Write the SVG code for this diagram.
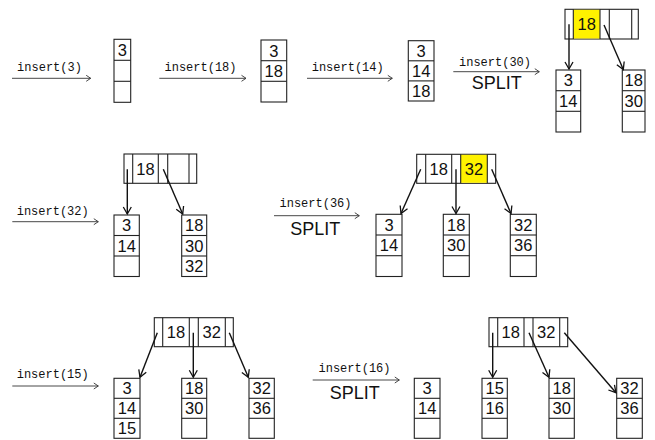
<svg xmlns="http://www.w3.org/2000/svg" width="655" height="440" viewBox="0 0 655 440">
<defs>
<style>
.box{fill:#fff;stroke:#222;stroke-width:1.1}
.div{stroke:#222;stroke-width:1.1}
.hl{fill:#fff200;stroke:none}
.k{font-family:"Liberation Sans",Arial,sans-serif;font-size:16.5px;text-anchor:middle;fill:#111}
.lbl{font-family:"Liberation Mono","Courier New",monospace;font-size:12px;text-anchor:middle;fill:#111}
.split{font-family:"Liberation Sans",Arial,sans-serif;font-size:18px;text-anchor:middle;fill:#111}
.step{stroke:#333;stroke-width:0.9;fill:none;marker-end:url(#sh)}
.edge{stroke:#111;stroke-width:1.4;fill:none;marker-end:url(#eh)}
</style>
<marker id="sh" markerUnits="userSpaceOnUse" markerWidth="8" markerHeight="8" refX="5" refY="3" orient="auto" overflow="visible">
<path d="M0.5,0 L5,3 L0.5,6" fill="none" stroke="#333" stroke-width="0.9"/>
</marker>
<marker id="eh" markerUnits="userSpaceOnUse" markerWidth="10" markerHeight="10" refX="7" refY="4" orient="auto" overflow="visible">
<path d="M0,0 L7,4 L0,8" fill="none" stroke="#111" stroke-width="1.3"/>
</marker>
</defs>
<rect width="655" height="440" fill="#fff"/>

<g id="steps">
<line class="step" x1="12" y1="78.3" x2="90.7" y2="78.3"/>
<text class="lbl" x="49.5" y="70.5">insert(3)</text>
<line class="step" x1="159.3" y1="78.3" x2="246" y2="78.3"/>
<text class="lbl" x="200.5" y="70.5">insert(18)</text>
<line class="step" x1="307" y1="78.3" x2="392.3" y2="78.3"/>
<text class="lbl" x="347.7" y="70.5">insert(14)</text>
<line class="step" x1="453.3" y1="71.7" x2="539.3" y2="71.7"/>
<text class="lbl" x="495" y="66">insert(30)</text>
<text class="split" x="496.7" y="89.3">SPLIT</text>
<line class="step" x1="12.3" y1="221.7" x2="98.3" y2="221.7"/>
<text class="lbl" x="52.7" y="214.5">insert(32)</text>
<line class="step" x1="274" y1="215.7" x2="359.3" y2="215.7"/>
<text class="lbl" x="315.5" y="207.3">insert(36)</text>
<text class="split" x="315.3" y="235">SPLIT</text>
<line class="step" x1="12.3" y1="386" x2="98.3" y2="386"/>
<text class="lbl" x="52.7" y="377.5">insert(15)</text>
<line class="step" x1="312.7" y1="380" x2="399.3" y2="380"/>
<text class="lbl" x="354.5" y="372.3">insert(16)</text>
<text class="split" x="354.7" y="399.3">SPLIT</text>
</g>

<!-- Row 1 -->
<g id="leaf1">
<rect class="box" x="114" y="39.3" width="16.7" height="63"/>
<line class="div" x1="114" y1="60.3" x2="130.7" y2="60.3"/>
<line class="div" x1="114" y1="81.3" x2="130.7" y2="81.3"/>
<text class="k" x="122.3" y="55.8">3</text>
</g>
<g id="leaf2">
<rect class="box" x="261" y="40" width="25.7" height="62"/>
<line class="div" x1="261" y1="60.7" x2="286.7" y2="60.7"/>
<line class="div" x1="261" y1="81.3" x2="286.7" y2="81.3"/>
<text class="k" x="273.8" y="56.5">3</text>
<text class="k" x="273.8" y="77">18</text>
</g>
<g id="leaf3">
<rect class="box" x="408.3" y="40.7" width="25.7" height="60.3"/>
<line class="div" x1="408.3" y1="60.8" x2="434" y2="60.8"/>
<line class="div" x1="408.3" y1="80.9" x2="434" y2="80.9"/>
<text class="k" x="421.2" y="56.7">3</text>
<text class="k" x="421.2" y="76.8">14</text>
<text class="k" x="421.2" y="96.9">18</text>
</g>
<g id="root1">
<rect class="box" x="565" y="9.3" width="73.3" height="29.7"/>
<rect class="hl" x="573.3" y="9.8" width="26.7" height="28.7"/>
<line class="div" x1="573.3" y1="9.3" x2="573.3" y2="39"/>
<line class="div" x1="600" y1="9.3" x2="600" y2="39"/>
<line class="div" x1="609.3" y1="9.3" x2="609.3" y2="39"/>
<line class="div" x1="631.7" y1="9.3" x2="631.7" y2="39"/>
<text class="k" x="586.7" y="29.8">18</text>
</g>
<g id="leaf4a">
<rect class="box" x="556" y="70" width="24.7" height="62"/>
<line class="div" x1="556" y1="90.7" x2="580.7" y2="90.7"/>
<line class="div" x1="556" y1="111.3" x2="580.7" y2="111.3"/>
<text class="k" x="568.3" y="86.3">3</text>
<text class="k" x="568.3" y="107">14</text>
</g>
<g id="leaf4b">
<rect class="box" x="622.3" y="70" width="22.7" height="62"/>
<line class="div" x1="622.3" y1="90.7" x2="645" y2="90.7"/>
<line class="div" x1="622.3" y1="111.3" x2="645" y2="111.3"/>
<text class="k" x="633.7" y="86.3">18</text>
<text class="k" x="633.7" y="107">30</text>
</g>

<!-- Row 2 left -->
<g id="root2a">
<rect class="box" x="124" y="154" width="72.7" height="29.3"/>
<line class="div" x1="132.7" y1="154" x2="132.7" y2="183.3"/>
<line class="div" x1="158.3" y1="154" x2="158.3" y2="183.3"/>
<line class="div" x1="167.7" y1="154" x2="167.7" y2="183.3"/>
<line class="div" x1="189" y1="154" x2="189" y2="183.3"/>
<text class="k" x="145.5" y="174.5">18</text>
</g>
<g id="leaf5a">
<rect class="box" x="114" y="215" width="25.3" height="61.5"/>
<line class="div" x1="114" y1="235.5" x2="139.3" y2="235.5"/>
<line class="div" x1="114" y1="256" x2="139.3" y2="256"/>
<text class="k" x="126.7" y="231">3</text>
<text class="k" x="126.7" y="251.5">14</text>
</g>
<g id="leaf5b">
<rect class="box" x="181.7" y="215" width="25" height="61.5"/>
<line class="div" x1="181.7" y1="235.5" x2="206.7" y2="235.5"/>
<line class="div" x1="181.7" y1="256" x2="206.7" y2="256"/>
<text class="k" x="194.2" y="231">18</text>
<text class="k" x="194.2" y="251.5">30</text>
<text class="k" x="194.2" y="272">32</text>
</g>

<!-- Row 2 right -->
<g id="root2b">
<rect class="box" x="416.7" y="154.3" width="79" height="29"/>
<rect class="hl" x="460.7" y="154.8" width="26.6" height="28"/>
<line class="div" x1="425.7" y1="154.3" x2="425.7" y2="183.3"/>
<line class="div" x1="451.7" y1="154.3" x2="451.7" y2="183.3"/>
<line class="div" x1="460.7" y1="154.3" x2="460.7" y2="183.3"/>
<line class="div" x1="487.3" y1="154.3" x2="487.3" y2="183.3"/>
<text class="k" x="438.7" y="174.8">18</text>
<text class="k" x="474" y="174.8">32</text>
</g>
<g id="leaf6a">
<rect class="box" x="376" y="214.3" width="26" height="62.2"/>
<line class="div" x1="376" y1="235" x2="402" y2="235"/>
<line class="div" x1="376" y1="255.7" x2="402" y2="255.7"/>
<text class="k" x="389" y="230.5">3</text>
<text class="k" x="389" y="251.2">14</text>
</g>
<g id="leaf6b">
<rect class="box" x="443.3" y="214.3" width="26" height="62.2"/>
<line class="div" x1="443.3" y1="235" x2="469.3" y2="235"/>
<line class="div" x1="443.3" y1="255.7" x2="469.3" y2="255.7"/>
<text class="k" x="456.3" y="230.5">18</text>
<text class="k" x="456.3" y="251.2">30</text>
</g>
<g id="leaf6c">
<rect class="box" x="510.3" y="214.3" width="26" height="62.2"/>
<line class="div" x1="510.3" y1="235" x2="536.3" y2="235"/>
<line class="div" x1="510.3" y1="255.7" x2="536.3" y2="255.7"/>
<text class="k" x="523.3" y="230.5">32</text>
<text class="k" x="523.3" y="251.2">36</text>
</g>

<!-- Row 3 left -->
<g id="root3a">
<rect class="box" x="154.3" y="317.7" width="79" height="29"/>
<line class="div" x1="162.7" y1="317.7" x2="162.7" y2="346.7"/>
<line class="div" x1="189.3" y1="317.7" x2="189.3" y2="346.7"/>
<line class="div" x1="198.3" y1="317.7" x2="198.3" y2="346.7"/>
<line class="div" x1="225.3" y1="317.7" x2="225.3" y2="346.7"/>
<text class="k" x="176" y="338.2">18</text>
<text class="k" x="211.8" y="338.2">32</text>
</g>
<g id="leaf7a">
<rect class="box" x="114" y="378.3" width="26" height="60"/>
<line class="div" x1="114" y1="398.3" x2="140" y2="398.3"/>
<line class="div" x1="114" y1="418.3" x2="140" y2="418.3"/>
<text class="k" x="127" y="394.3">3</text>
<text class="k" x="127" y="414.3">14</text>
<text class="k" x="127" y="434.3">15</text>
</g>
<g id="leaf7b">
<rect class="box" x="181.7" y="378.3" width="25" height="60"/>
<line class="div" x1="181.7" y1="398.3" x2="206.7" y2="398.3"/>
<line class="div" x1="181.7" y1="418.3" x2="206.7" y2="418.3"/>
<text class="k" x="194.2" y="394.3">18</text>
<text class="k" x="194.2" y="414.3">30</text>
</g>
<g id="leaf7c">
<rect class="box" x="249" y="378.3" width="25.3" height="60"/>
<line class="div" x1="249" y1="398.3" x2="274.3" y2="398.3"/>
<line class="div" x1="249" y1="418.3" x2="274.3" y2="418.3"/>
<text class="k" x="261.7" y="394.3">32</text>
<text class="k" x="261.7" y="414.3">36</text>
</g>

<!-- Row 3 right -->
<g id="root3b">
<rect class="box" x="489" y="317.7" width="78.7" height="29"/>
<line class="div" x1="497.7" y1="317.7" x2="497.7" y2="346.7"/>
<line class="div" x1="524" y1="317.7" x2="524" y2="346.7"/>
<line class="div" x1="533" y1="317.7" x2="533" y2="346.7"/>
<line class="div" x1="559.7" y1="317.7" x2="559.7" y2="346.7"/>
<text class="k" x="510.8" y="338.2">18</text>
<text class="k" x="546.3" y="338.2">32</text>
</g>
<g id="leaf8a">
<rect class="box" x="414.3" y="378.3" width="25.7" height="60"/>
<line class="div" x1="414.3" y1="398.3" x2="440" y2="398.3"/>
<line class="div" x1="414.3" y1="418.3" x2="440" y2="418.3"/>
<text class="k" x="427.2" y="394.3">3</text>
<text class="k" x="427.2" y="414.3">14</text>
</g>
<g id="leaf8b">
<rect class="box" x="482" y="378.3" width="25.3" height="60"/>
<line class="div" x1="482" y1="398.3" x2="507.3" y2="398.3"/>
<line class="div" x1="482" y1="418.3" x2="507.3" y2="418.3"/>
<text class="k" x="494.7" y="394.3">15</text>
<text class="k" x="494.7" y="414.3">16</text>
</g>
<g id="leaf8c">
<rect class="box" x="549" y="378.3" width="25.3" height="60"/>
<line class="div" x1="549" y1="398.3" x2="574.3" y2="398.3"/>
<line class="div" x1="549" y1="418.3" x2="574.3" y2="418.3"/>
<text class="k" x="561.7" y="394.3">18</text>
<text class="k" x="561.7" y="414.3">30</text>
</g>
<g id="leaf8d">
<rect class="box" x="616.7" y="378.3" width="25.6" height="60"/>
<line class="div" x1="616.7" y1="398.3" x2="642.3" y2="398.3"/>
<line class="div" x1="616.7" y1="418.3" x2="642.3" y2="418.3"/>
<text class="k" x="629.5" y="394.3">32</text>
<text class="k" x="629.5" y="414.3">36</text>
</g>

<g id="connectors">
<line class="edge" x1="569" y1="24.3" x2="569" y2="69"/>
<line class="edge" x1="604" y1="25" x2="623.3" y2="69.5"/>
<line class="edge" x1="127.3" y1="169.3" x2="127.3" y2="214"/>
<line class="edge" x1="163.3" y1="169.3" x2="182.7" y2="214"/>
<line class="edge" x1="420.7" y1="169.3" x2="401" y2="213.5"/>
<line class="edge" x1="456" y1="169.3" x2="456" y2="213.5"/>
<line class="edge" x1="491.7" y1="169.3" x2="511" y2="213.5"/>
<line class="edge" x1="157.3" y1="332.7" x2="140" y2="377.3"/>
<line class="edge" x1="193.3" y1="332.7" x2="193.3" y2="377.3"/>
<line class="edge" x1="229.3" y1="332.7" x2="248.3" y2="377.3"/>
<line class="edge" x1="492.7" y1="332.7" x2="492.7" y2="377.3"/>
<line class="edge" x1="529" y1="332.7" x2="549" y2="377.3"/>
<line class="edge" x1="564.3" y1="332.7" x2="616" y2="392.7"/>
</g>
</svg>
